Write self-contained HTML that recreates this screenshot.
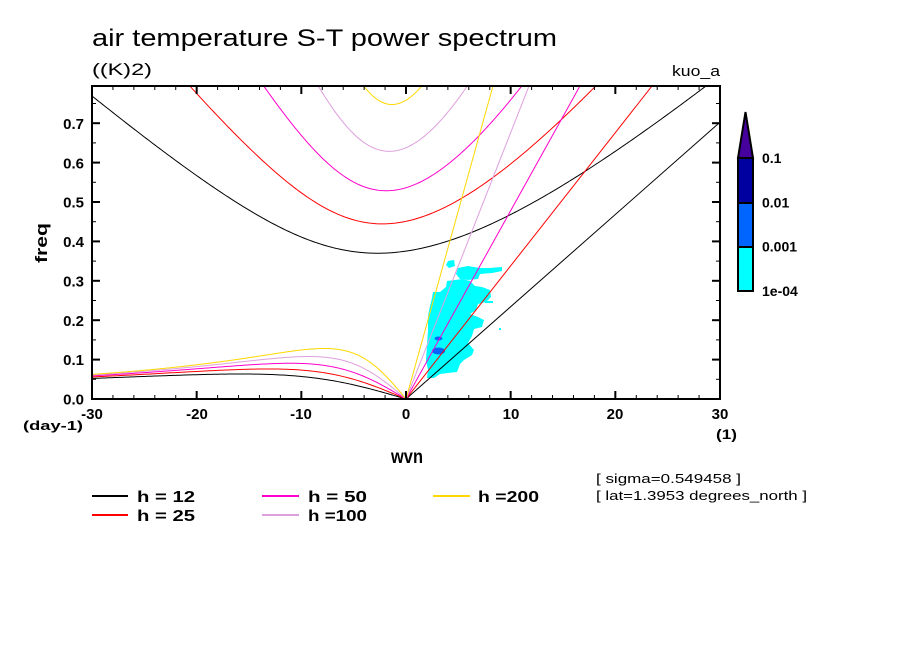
<!DOCTYPE html>
<html><head><meta charset="utf-8"><style>
html,body{margin:0;padding:0;background:#fff;}
svg{display:block;}
text{font-family:"Liberation Sans",sans-serif;fill:#000;}
.b{font-weight:bold;}
</style></head><body>
<svg id="s" xmlns="http://www.w3.org/2000/svg" width="904" height="654" viewBox="0 0 904 654">
<rect x="0" y="0" width="904" height="654" fill="#fff"/>
<defs><clipPath id="cp"><rect x="92" y="86" width="628" height="313"/></clipPath></defs>

<!-- data blobs -->
<g clip-path="url(#cp)">
<g fill="#00ffff">
<polygon points="448,261 454,260 455,266 449,268 446,265"/>
<polygon points="458,268 468,266 480,268 490,268 502,267 502,271 492,273 480,274 478,279 468,280 460,279 456,274"/>
<polygon points="447,281 455,280 462,279 470,281 475,286 482,287 490,290 491,297 486,302 478,304 476,310 470,314 478,317 484,320 482,327 474,329 472,336 468,343 474,350 472,355 464,360 460,364 457,372 448,373 440,374 434,378 427,378 428,370 426,360 427,345 428,330 428,316 430,306 432,298 433,292 440,292 446,287"/>
<rect x="485" y="301" width="8" height="2"/>
<rect x="499" y="328" width="2" height="2"/>
</g>
<ellipse cx="438.5" cy="338.5" rx="4" ry="2" fill="#0064ff"/>
<ellipse cx="438.5" cy="351" rx="6.5" ry="3.5" fill="#0064ff"/>
<g id="curves" fill="none" stroke-width="1"></g>
</g>

<!-- frame -->
<rect x="92" y="86" width="628" height="313" fill="none" stroke="#000" stroke-width="2"/>
<g id="ticks" stroke="#000" stroke-width="2"></g>

<!-- titles -->
<text x="92" y="46" font-size="24" textLength="465" lengthAdjust="spacingAndGlyphs">air temperature S-T power spectrum</text>
<text x="92" y="75" font-size="17" textLength="60" lengthAdjust="spacingAndGlyphs">((K)2)</text>
<text x="672" y="76" font-size="15" textLength="48" lengthAdjust="spacingAndGlyphs">kuo_a</text>

<!-- y labels -->
<g class="b" font-size="15" text-anchor="end">
<text x="84" y="404.5">0.0</text>
<text x="84" y="365">0.1</text>
<text x="84" y="326">0.2</text>
<text x="84" y="286.5">0.3</text>
<text x="84" y="247">0.4</text>
<text x="84" y="207.5">0.5</text>
<text x="84" y="168.5">0.6</text>
<text x="84" y="129">0.7</text>
</g>
<text class="b" font-size="17" transform="translate(47,243) rotate(-90)" text-anchor="middle" textLength="40" lengthAdjust="spacingAndGlyphs">freq</text>

<!-- x labels -->
<g class="b" font-size="15" text-anchor="middle">
<text x="92" y="419">-30</text>
<text x="197" y="419">-20</text>
<text x="301" y="419">-10</text>
<text x="406" y="419">0</text>
<text x="511" y="419">10</text>
<text x="615" y="419">20</text>
<text x="720" y="419">30</text>
</g>
<text class="b" x="23" y="430" font-size="13" textLength="60" lengthAdjust="spacingAndGlyphs">(day-1)</text>
<text class="b" x="716" y="439" font-size="14" textLength="21" lengthAdjust="spacingAndGlyphs">(1)</text>
<text class="b" x="391" y="463" font-size="19" textLength="32" lengthAdjust="spacingAndGlyphs">wvn</text>

<!-- colorbar -->
<rect x="738" y="247" width="15" height="44" fill="#00ffff"/>
<rect x="738" y="203" width="15" height="44" fill="#0064ff"/>
<rect x="738" y="158" width="15" height="45" fill="#0000a0"/>
<polygon points="738,158 753,158 745.5,112" fill="#46009e" stroke="#000" stroke-width="2" stroke-linejoin="miter"/>
<g stroke="#000" stroke-width="2" fill="none">
<rect x="738" y="158" width="15" height="133"/>
<line x1="738" y1="203" x2="753" y2="203"/>
<line x1="738" y1="247" x2="753" y2="247"/>
</g>
<g class="b" font-size="14">
<text x="762" y="163">0.1</text>
<text x="762" y="207.5">0.01</text>
<text x="762" y="251.5">0.001</text>
<text x="762" y="296">1e-04</text>
</g>

<!-- legend -->
<g stroke-width="2">
<line x1="92" y1="496" x2="128" y2="496" stroke="#000"/>
<line x1="92" y1="515" x2="128" y2="515" stroke="#ff0000"/>
<line x1="262" y1="496" x2="299" y2="496" stroke="#ff00cc"/>
<line x1="262" y1="515" x2="299" y2="515" stroke="#dda0dd"/>
<line x1="433" y1="496" x2="470" y2="496" stroke="#ffd700"/>
</g>
<g class="b" font-size="16" xml:space="preserve" style="white-space:pre">
<text x="137" y="502" textLength="58" lengthAdjust="spacingAndGlyphs">h = 12</text>
<text x="137" y="521" textLength="58" lengthAdjust="spacingAndGlyphs">h = 25</text>
<text x="308" y="502" textLength="59" lengthAdjust="spacingAndGlyphs">h = 50</text>
<text x="308" y="521" textLength="59" lengthAdjust="spacingAndGlyphs">h =100</text>
<text x="478" y="502" textLength="61" lengthAdjust="spacingAndGlyphs">h =200</text>
</g>
<text x="596" y="483" font-size="13" textLength="145" lengthAdjust="spacingAndGlyphs">[ sigma=0.549458 ]</text>
<text x="596" y="500" font-size="13" textLength="211" lengthAdjust="spacingAndGlyphs">[ lat=1.3953 degrees_north ]</text>
</svg>
<script>
(function(){
var NS="http://www.w3.org/2000/svg";
var a=6.371e6,Om=7.292e-5,B=2*Om/a,g=9.81;
function X(s){return 406+s*628/60;}
function Y(f){return 399-f*394;}
function toF(w){return w*86400/(2*Math.PI);}
function cub(k,c){
  var p=-(c*c*k*k+3*B*c), q=-B*k*c*c;
  var m=2*Math.sqrt(-p/3);
  var arg=(3*q/(2*p))*Math.sqrt(-3/p);
  if(arg>1)arg=1; if(arg<-1)arg=-1;
  var th=Math.acos(arg)/3;
  return [m*Math.cos(th), m*Math.cos(th-2*Math.PI/3), m*Math.cos(th-4*Math.PI/3)];
}
var G=document.getElementById("curves");
function path(d,col){var p=document.createElementNS(NS,"path");p.setAttribute("d",d);p.setAttribute("stroke",col);p.setAttribute("fill","none");G.appendChild(p);}
var hs=[[12,"#000000"],[25,"#ff0000"],[50,"#ff00cc"],[100,"#dda0dd"],[200,"#ffd700"]];
hs.forEach(function(hc){
  var c=Math.sqrt(g*hc[0]), col=hc[1];
  var d="", s, r, f;
  for(s=-32;s<=32.001;s+=0.2){
    r=cub(s/a,c); f=toF(r[0]);
    var yy=Y(f); if(yy<-500)yy=-500;
    d+=(d?"L":"M")+X(s).toFixed(2)+" "+yy.toFixed(2);
  }
  path(d,col);
  d="";
  for(s=-32;s<=0.0001;s+=0.2){
    r=cub(s/a,c); f=toF(Math.max(0,r[1]));
    d+=(d?"L":"M")+X(s).toFixed(2)+" "+Y(f).toFixed(2);
  }
  path(d,col);
  var fk=toF(c*40/a);
  path("M"+X(0)+" "+Y(0)+"L"+X(40).toFixed(2)+" "+Y(fk).toFixed(2),col);
});
var T=document.getElementById("ticks");
function ln(x1,y1,x2,y2,w){var l=document.createElementNS(NS,"line");l.setAttribute("x1",x1);l.setAttribute("y1",y1);l.setAttribute("x2",x2);l.setAttribute("y2",y2);if(w)l.setAttribute("stroke-width",w);T.appendChild(l);}
for(var s=-30;s<=30;s+=2){
  var x=X(s), major=(s%10===0), L=major?8:4, w=major?2:1;
  if(s===-30||s===30)continue;
  ln(x,399,x,399-L,w); ln(x,86,x,86+L,w);
}
for(var i=1;i<=15;i++){
  var f=i*0.05, y=Y(f); if(y<88)break;
  var major=(i%2===0), L=major?8:4, w=major?2:1;
  ln(92,y,92+L,y,w); ln(720,y,720-L,y,w);
}
})();
</script>
</body></html>
